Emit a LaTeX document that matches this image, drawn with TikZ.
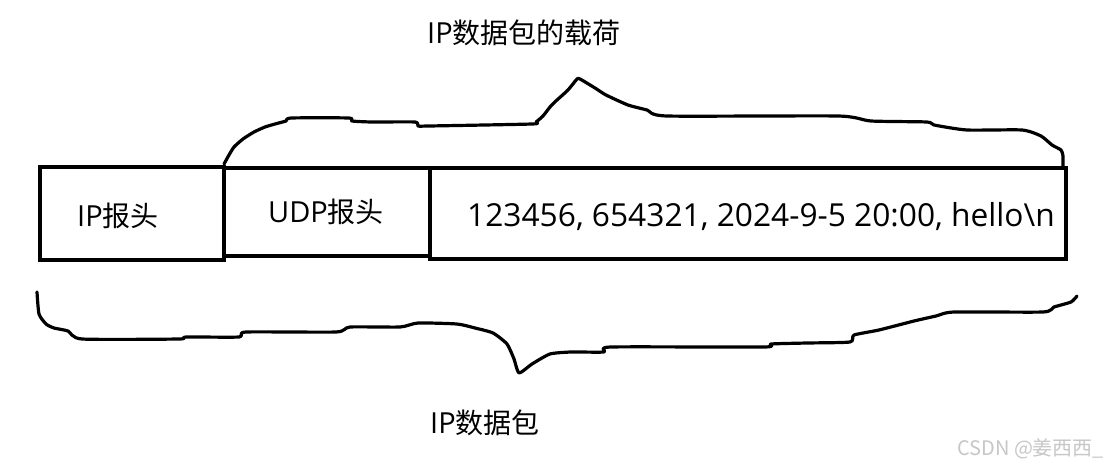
\documentclass[tikz,border=0pt]{standalone}
\usepackage{fontspec}
\setmainfont{Noto Sans CJK SC}
\newfontfamily\latf{Open Sans}
\begin{document}
\begin{tikzpicture}[x=1pt,y=-1pt,
  cell/.style={draw=black, line width=4.8pt, rectangle, inner sep=0pt, line join=miter},
  lbl/.style={inner sep=0pt, anchor=base west, font=\fontsize{28}{34}\selectfont},
  brace/.style={draw=black, line width=3.2pt, line join=round, line cap=round},
  wm/.style={inner sep=0pt, anchor=base west, text=black!22, font=\fontsize{20}{24}\selectfont}]
\useasboundingbox[fill=white] (0,0) rectangle (1118,466);
% boxes
\node[cell, minimum width=184pt, minimum height=93pt] (ip) at (132,213.5) {};
\node[cell, minimum width=206pt, minimum height=88pt] (udp) at (327,212) {};
\node[cell, minimum width=636pt, minimum height=91pt] (pay) at (748,213.5) {};
% texts
\node[lbl] (tip) at (77,226) {{\latf\fontsize{29}{34}\selectfont IP}报头};
\node[lbl] (tudp) at (268,222) {{\latf\fontsize{29}{34}\selectfont UDP}报头};
\node[lbl, font=\latf\fontsize{31.7}{38}\selectfont] (tpay) at (467,226) {123456, 654321, 2024-9-5 20:00, hello\textbackslash n};
\node[lbl] (ttop) at (427,43) {{\latf\fontsize{29}{34}\selectfont IP}数据包的载荷};
\node[lbl] (tbot) at (430,433) {{\latf\fontsize{29}{34}\selectfont IP}数据包};
\node[wm] (mark) at (957,455) {CSDN @姜西西\_};
% top brace
\draw[brace] plot[smooth, tension=0.35] coordinates {
(224,164) (229,155) (234,147) (243,139) (254,132) (265,127) (275,124) (286,121) (291,118) (349,118) (352,121) (372,122) (415,122) (418,126) (429,126) (532,124) (536,122) (543,116) (550,107) (557,100) (568,90) (577,79) (580,79) (595,88) (606,95) (628,105) (647,110) (667,116) (838,116) (871,121) (927,122) (934,125) (967,130) (1022,130) (1041,136) (1052,145) (1061,150) (1063,156) (1063,168)};
% bottom brace
\draw[brace] plot[smooth, tension=0.35] coordinates {
(37,292) (39,314) (46,324) (54,328) (68,331) (82,339) (179,339) (186,337) (239,337) (246,332) (336,332) (350,327) (400,327) (418,323) (457,324) (475,328) (493,333) (507,344) (514,359) (519,373) (532,364) (550,354) (571,352) (604,352) (611,347) (764,347) (771,344) (807,343) (850,342) (854,335) (879,330) (914,321) (936,316) (954,312) (1043,312) (1054,307) (1071,302) (1077,296)};
\end{tikzpicture}
\end{document}
